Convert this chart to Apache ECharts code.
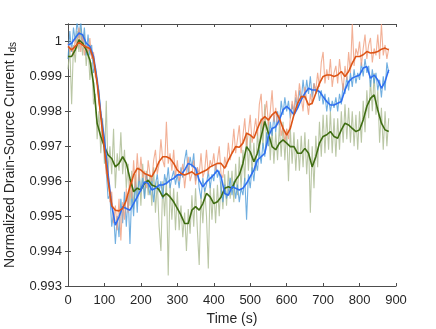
<!DOCTYPE html>
<html>
<head>
<meta charset="utf-8">
<script src="https://cdn.jsdelivr.net/npm/echarts@6/dist/echarts.min.js"></script>
<style>
html, body { margin: 0; padding: 0; background: #fff; }
#chart { width: 436px; height: 329px; }
</style>
</head>
<body>
<div id="chart"></div>
<script>
// sampling of the traces (s)
var rawStep = 5;
var smoothStep = 10;

// raw traces, one value every 5 s from 0 to 880 s
var orangeRaw = [
    0.99995,0.9997,0.99985,0.9996,1.0001,0.9998,1.0004,0.9997,1.0002,0.9996,0.9999,0.9997,1.0001,0.9995,0.9997,0.9990,0.9989,0.9982,0.9980,0.9972,
    0.9971,0.9962,0.9963,0.9954,0.9957,0.9948,0.9953,0.9946,0.9955,0.9943,0.9954,0.9949,0.9958,0.9951,0.9961,0.9955,0.9966,0.9958,0.9968,0.9960,
    0.9967,0.9961,0.9963,0.9958,0.9966,0.9962,0.9960,0.9966,0.9969,0.9962,0.9965,0.9972,0.9966,0.9964,0.9977,0.9965,0.9968,0.9963,0.9969,0.9961,
    0.9966,0.9960,0.9962,0.9965,0.9958,0.9963,0.9967,0.9960,0.9962,0.9966,0.9959,0.9964,0.9962,0.9968,0.9961,0.9963,0.9969,0.9962,0.9966,0.9964,
    0.9968,0.9963,0.9966,0.9970,0.9962,0.9961,0.9967,0.9964,0.9971,0.9966,0.9969,0.9975,0.9968,0.9972,0.9976,0.9968,0.9973,0.9978,0.9970,0.9974,
    0.9979,0.9971,0.9974,0.9978,0.9973,0.9982,0.9985,0.9975,0.9979,0.9983,0.9976,0.9980,0.9986,0.9977,0.9981,0.9976,0.9979,0.9973,0.9976,0.9971,
    0.9975,0.9972,0.9978,0.9983,0.9980,0.9986,0.9982,0.9988,0.9984,0.9980,0.9987,0.9983,0.9979,0.9985,0.9982,0.9988,0.9986,0.9991,0.9987,0.9994,
    0.9997,0.9988,0.9992,0.9989,0.9995,0.9987,0.9991,0.9993,0.9988,0.9995,0.9990,0.9986,0.9993,0.9989,0.9997,0.9991,1.0005,0.9993,0.9998,0.9996,
    1.0000,0.9993,0.9998,1.0002,0.9995,0.9999,1.0001,0.9994,0.9998,0.9996,1.0002,0.9995,1.0005,0.9996,0.9999,0.9995,0.9998
];
var blueRaw = [
    0.9995,1.0003,0.9997,1.0004,1.0000,1.0006,1.0001,1.0006,0.9999,1.0004,0.9996,1.0002,0.9996,0.9999,0.9991,0.9993,0.9988,0.9986,0.9979,0.9975,
    0.9968,0.9963,0.9955,0.9956,0.9947,0.9951,0.9942,0.9950,0.9944,0.9955,0.9948,0.9957,0.9947,0.9956,0.9942,0.9957,0.9950,0.9960,0.9951,0.9962,
    0.9957,0.9961,0.9955,0.9962,0.9959,0.9956,0.9961,0.9954,0.9959,0.9962,0.9957,0.9960,0.9955,0.9962,0.9959,0.9964,0.9958,0.9961,0.9963,0.9959,
    0.9962,0.9958,0.9964,0.9961,0.9966,0.9969,0.9962,0.9967,0.9964,0.9968,0.9960,0.9964,0.9958,0.9955,0.9961,0.9957,0.9959,0.9963,0.9958,0.9962,
    0.9960,0.9965,0.9961,0.9963,0.9958,0.9954,0.9959,0.9955,0.9957,0.9961,0.9956,0.9960,0.9955,0.9959,0.9954,0.9958,0.9956,0.9961,0.9949,0.9962,
    0.9958,0.9964,0.9960,0.9966,0.9963,0.9969,0.9965,0.9971,0.9967,0.9974,0.9970,0.9977,0.9973,0.9979,0.9974,0.9980,0.9976,0.9983,0.9979,0.9984,
    0.9980,0.9983,0.9978,0.9982,0.9979,0.9984,0.9981,0.9986,0.9983,0.9989,0.9984,0.9989,0.9985,0.9990,0.9984,0.9988,0.9985,0.9987,0.9983,0.9986,
    0.9982,0.9985,0.9980,0.9984,0.9980,0.9983,0.9981,0.9984,0.9980,0.9985,0.9982,0.9988,0.9985,0.9990,0.9986,0.9991,0.9987,0.9992,0.9988,0.9991,
    0.9989,0.9994,0.9990,0.9995,0.9991,0.9993,0.9987,0.9992,0.9988,0.9991,0.9986,0.9989,0.9984,0.9990,0.9986,0.9994,0.9991
];
var greenRaw = [
    0.9992,0.9998,0.9982,0.9999,0.9994,1.0003,0.9997,1.0004,0.9996,1.0002,0.9993,0.9999,0.9989,0.9994,0.9982,0.9985,0.9972,0.9980,0.9968,0.9978,
    0.9965,0.9983,0.9962,0.9970,0.9962,0.9975,0.9958,0.9968,0.9963,0.9974,0.9962,0.9969,0.9958,0.9965,0.9953,0.9963,0.9952,0.9962,0.9955,0.9964,
    0.9953,0.9965,0.9955,0.9963,0.9956,0.9962,0.9953,0.9964,0.9951,0.9960,0.9947,0.9940,0.9960,0.9950,0.9961,0.9933,0.9959,0.9949,0.9958,0.9946,
    0.9957,0.9946,0.9953,0.9944,0.9951,0.9940,0.9952,0.9945,0.9956,0.9947,0.9958,0.9946,0.9936,0.9956,0.9948,0.9958,0.9950,0.9935,0.9959,0.9949,
    0.9958,0.9948,0.9959,0.9950,0.9960,0.9952,0.9962,0.9953,0.9963,0.9955,0.9963,0.9954,0.9965,0.9956,0.9967,0.9958,0.9969,0.9960,0.9974,0.9963,
    0.9973,0.9962,0.9971,0.9963,0.9974,0.9967,0.9978,0.9970,0.9982,0.9970,0.9978,0.9966,0.9975,0.9965,0.9974,0.9966,0.9976,0.9967,0.9977,0.9966,
    0.9975,0.9960,0.9975,0.9965,0.9974,0.9963,0.9972,0.9963,0.9973,0.9964,0.9974,0.9962,0.9972,0.9951,0.9970,0.9958,0.9973,0.9964,0.9977,0.9967,
    0.9979,0.9968,0.9979,0.9969,0.9980,0.9968,0.9978,0.9967,0.9978,0.9969,0.9980,0.9971,0.9982,0.9972,0.9981,0.9971,0.9980,0.9970,0.9979,0.9969,
    0.9980,0.9971,0.9983,0.9974,0.9986,0.9978,0.9989,0.9980,0.9991,0.9979,0.9986,0.9971,0.9981,0.9969,0.9980,0.9970,0.9978
];

// smoothed traces, one value every 10 s from 0 to 880 s
var orangeSmooth = [
    0.99986,0.99976,0.99986,0.99997,0.9999,0.99984,0.9998,0.9995,0.9988,0.99785,
    0.9969,0.9960,0.9953,0.99517,0.99515,0.99522,0.99546,0.99584,0.99618,0.99637,
    0.99632,0.99622,0.99618,0.99613,0.99632,0.99656,0.9967,0.9967,0.99665,0.99651,
    0.99632,0.99622,0.99618,0.99622,0.99627,0.99618,0.99622,0.99627,0.99632,0.99641,
    0.99646,0.99651,0.99651,0.99637,0.9966,0.9968,0.99699,0.99697,0.99709,0.99737,
    0.99732,0.99723,0.99751,0.99775,0.99785,0.99775,0.9979,0.99799,0.9978,0.99751,
    0.99732,0.99751,0.9979,0.99823,0.99842,0.99842,0.99818,0.99823,0.99852,0.9988,
    0.999,0.99904,0.99904,0.999,0.99904,0.99914,0.999,0.99914,0.99938,0.99957,
    0.99957,0.99962,0.99971,0.99967,0.99968,0.99971,0.99978,0.99981,0.99976
];
var blueSmooth = [
    0.9999,0.99995,1.0001,1.00024,1.00019,0.99995,0.99986,0.99957,0.9989,0.99794,
    0.9972,0.9962,0.9953,0.99474,0.99498,0.99527,0.99522,0.99517,0.99536,0.99555,
    0.99575,0.99598,0.99594,0.99575,0.9958,0.99589,0.99589,0.99594,0.99603,0.99608,
    0.99618,0.99618,0.99632,0.99651,0.99646,0.99637,0.99603,0.99584,0.99598,0.99608,
    0.99618,0.99632,0.99613,0.99565,0.9956,0.99584,0.9958,0.99575,0.9958,0.99594,
    0.99613,0.99632,0.99661,0.9967,0.9968,0.99728,0.99751,0.99756,0.99775,0.99804,
    0.99814,0.99804,0.9979,0.99809,0.99833,0.99852,0.99866,0.99861,0.99861,0.99857,
    0.99842,0.99828,0.99818,0.99818,0.99823,0.99828,0.99861,0.99885,0.99895,0.999,
    0.99904,0.99924,0.99928,0.99895,0.99904,0.9989,0.99866,0.99885,0.99919
];
var greenSmooth = [
    0.99957,0.99957,0.99976,1.00005,0.99995,0.99976,0.99947,0.9988,0.99766,0.99728,
    0.99699,0.99675,0.99665,0.99641,0.99651,0.9967,0.99651,0.99608,0.9957,0.9958,
    0.99575,0.99594,0.99603,0.99589,0.99585,0.99575,0.99555,0.99565,0.99555,0.99541,
    0.99522,0.99503,0.99479,0.99479,0.99517,0.99527,0.99517,0.99536,0.99565,0.99555,
    0.99536,0.99541,0.99555,0.9958,0.99584,0.9958,0.99603,0.99618,0.99651,0.99699,
    0.99684,0.99656,0.9968,0.99728,0.99771,0.99737,0.99699,0.9969,0.99709,0.99718,
    0.99709,0.99699,0.99699,0.9968,0.9968,0.99694,0.9968,0.99641,0.9967,0.99709,
    0.99728,0.99733,0.99742,0.99728,0.99723,0.99747,0.99766,0.99761,0.99751,0.99742,
    0.99747,0.99775,0.99814,0.99837,0.99847,0.99804,0.99766,0.99747,0.99742
];

// 把数组变成 [时间, 值]
function toPairs(arr, step) {
    return arr.map(function (v, i) { return [i * step, v]; });
}

function lineSeries(data, step, color, width, opacity, z) {
    return {
        type: 'line',
        data: toPairs(data, step),
        showSymbol: false,
        symbol: 'none',
        clip: true,
        z: z,
        lineStyle: { color: color, width: width, opacity: opacity },
        emphasis: { disabled: true }
    };
}

var boxColor = '#4d4d4d';
var labelColor = '#262626';
var font = 'Arial, "Liberation Sans", Helvetica, sans-serif';

var chart = echarts.init(document.getElementById('chart'));

var option = {
    backgroundColor: '#fff',
    animation: false,
    grid: { left: 68, right: 40, top: 24, bottom: 43, outerBoundsMode: 'none', containLabel: false },
    xAxis: [{
        type: 'value',
        min: 0, max: 900, interval: 100,
        name: 'Time (s)',
        nameLocation: 'middle',
        nameGap: 26,
        nameTextStyle: { fontSize: 14, color: labelColor, fontFamily: font },
        axisLine: { lineStyle: { color: boxColor, width: 1 } },
        axisTick: { inside: true, length: 3, lineStyle: { color: boxColor } },
        axisLabel: { fontSize: 13, color: labelColor, fontFamily: font, margin: 8 },
        splitLine: { show: false }
    }, {
        type: 'value',
        position: 'top',
        min: 0, max: 900, interval: 100,
        axisLine: { lineStyle: { color: boxColor, width: 1 } },
        axisTick: { inside: true, length: 3, lineStyle: { color: boxColor } },
        axisLabel: { show: false },
        splitLine: { show: false }
    }],
    yAxis: [{
        type: 'value',
        min: 0.993, max: 1.0005, interval: 0.001,
        name: 'Normalized Drain-Source Current I{sub|ds}',
        nameLocation: 'middle',
        nameGap: 46,
        nameTextStyle: {
            fontSize: 14, color: labelColor, fontFamily: font,
            rich: { sub: { fontSize: 10, color: labelColor, fontFamily: font, padding: [7, 0, 0, 0] } }
        },
        axisLine: { show: true, lineStyle: { color: boxColor, width: 1 } },
        axisTick: { show: true, inside: true, length: 3, lineStyle: { color: boxColor } },
        axisLabel: { fontSize: 13, color: labelColor, fontFamily: font, margin: 6, showMaxLabel: false },
        splitLine: { show: false }
    }, {
        type: 'value',
        position: 'right',
        min: 0.993, max: 1.0005, interval: 0.001,
        axisLine: { show: true, lineStyle: { color: boxColor, width: 1 } },
        axisTick: { show: true, inside: true, length: 3, lineStyle: { color: boxColor } },
        axisLabel: { show: false },
        splitLine: { show: false }
    }],
    series: [
        lineSeries(greenRaw, rawStep, '#a9b98f', 1.1, 0.8, 1),
        lineSeries(blueRaw, rawStep, '#4d9bd8', 1.1, 0.8, 2),
        lineSeries(orangeRaw, rawStep, '#ef9c7c', 1.1, 0.8, 3),
        lineSeries(greenSmooth, smoothStep, '#3f6d12', 1.6, 1, 4),
        lineSeries(blueSmooth, smoothStep, '#2f6ff0', 1.6, 1, 5),
        lineSeries(orangeSmooth, smoothStep, '#dd5416', 1.6, 1, 6)
    ]
};

chart.setOption(option);
</script>
</body>
</html>
